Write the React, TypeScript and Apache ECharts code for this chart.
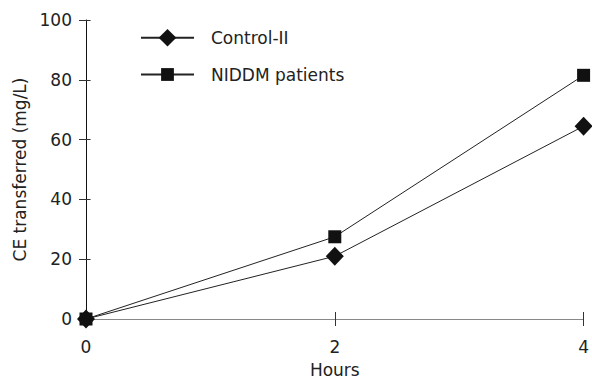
import React, { useEffect, useRef } from "react";
import * as echarts from "echarts";

const hours = [0, 2, 4];
const controlValues = [0, 21, 64.5];
const niddmValues = [0, 27.5, 81.5];
const seriesNames = ["Control-II", "NIDDM patients"];
const yTicks = [0, 20, 40, 60, 80, 100];

const FONT = "DejaVu Sans";

export default function App() {
  const ref = useRef<HTMLDivElement>(null);
  useEffect(() => {
    if (!ref.current) return;
    const chart = echarts.init(ref.current, null, { renderer: "svg" });
    const toPairs = (vals: number[]) => hours.map((h, i) => [h, vals[i]]);
    const tickColor = "#333";
    const labelStyle = { fontFamily: FONT, fontSize: 17, color: "#222" };
    chart.setOption({
      animation: false,
      backgroundColor: "#fff",
      grid: { left: 86, right: 6, top: 20, bottom: 66, containLabel: false },
      legend: [
        {
          data: [seriesNames[0]],
          left: 135,
          top: 24,
          orient: "vertical",
          itemWidth: 53,
          itemHeight: 22,
          textStyle: { ...labelStyle, padding: [0, 0, 0, 12] },
        },
        {
          data: [seriesNames[1]],
          left: 135,
          top: 61,
          orient: "vertical",
          itemWidth: 53,
          itemHeight: 16,
          textStyle: { ...labelStyle, padding: [0, 0, 0, 12] },
        },
      ],
      xAxis: [
        {
          type: "value",
          min: 0,
          max: 4,
          interval: 2,
          name: "Hours",
          nameLocation: "middle",
          nameGap: 42,
          nameTextStyle: labelStyle,
          axisLine: { show: true, onZero: false, lineStyle: { color: "#888", width: 1 } },
          axisTick: { show: true, inside: false, length: 7, lineStyle: { color: tickColor } },
          axisLabel: { ...labelStyle, margin: 19 },
          splitLine: { show: false },
        },
        {
          type: "value",
          min: 0,
          max: 4,
          interval: 2,
          position: "top",
          offset: -299,
          axisLine: { show: false, onZero: false },
          axisTick: { show: true, inside: false, length: 7, lineStyle: { color: tickColor } },
          axisLabel: { show: false },
          splitLine: { show: false },
        },
      ],
      yAxis: [
        {
          type: "value",
          min: 0,
          max: 100,
          interval: 20,
          name: "CE transferred (mg/L)",
          nameLocation: "middle",
          nameGap: 50,
          nameTextStyle: labelStyle,
          axisLine: { show: true, onZero: false, lineStyle: { color: "#111", width: 1 } },
          axisTick: { show: true, inside: false, length: 7, lineStyle: { color: tickColor } },
          axisLabel: {
            ...labelStyle,
            margin: 14,
            formatter: (v: number) => (yTicks.includes(v) ? String(v) : ""),
          },
          splitLine: { show: false },
        },
        {
          type: "value",
          min: 0,
          max: 100,
          interval: 20,
          position: "right",
          offset: -500,
          axisLine: { show: false, onZero: false },
          axisTick: { show: true, inside: false, length: 7, lineStyle: { color: tickColor } },
          axisLabel: { show: false },
          splitLine: { show: false },
        },
      ],
      series: [
        {
          name: seriesNames[0],
          type: "line",
          data: toPairs(controlValues),
          symbol: "diamond",
          symbolSize: [18, 19],
          itemStyle: { color: "#111" },
          lineStyle: { color: "#222", width: 1 },
          z: 3,
        },
        {
          name: seriesNames[1],
          type: "line",
          xAxisIndex: 1,
          yAxisIndex: 1,
          data: toPairs(niddmValues),
          symbol: "rect",
          symbolSize: 13,
          itemStyle: { color: "#111" },
          lineStyle: { color: "#222", width: 1 },
          z: 4,
        },
      ],
    });
    return () => chart.dispose();
  }, []);
  return <div ref={ref} style={{ width: 592, height: 385, position: "fixed", left: 0, top: 0 }} />;
}
